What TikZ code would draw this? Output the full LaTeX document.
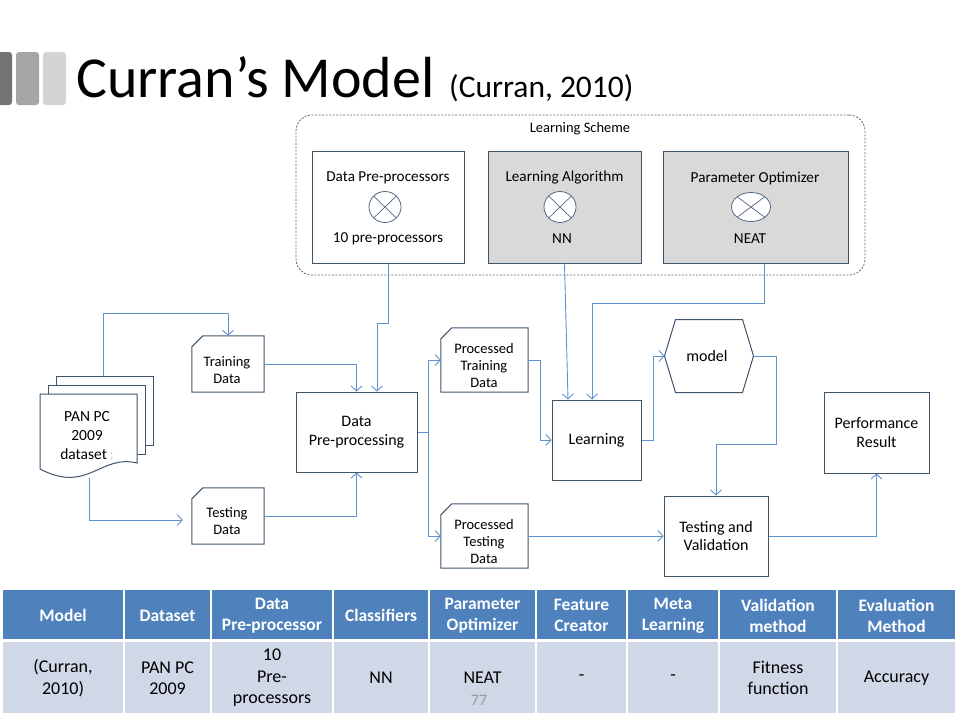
\documentclass[tikz,border=0pt]{standalone}
\usepackage{fontspec}
\setmainfont{Carlito}
\usetikzlibrary{arrows.meta,calc,positioning,shapes.geometric}

\definecolor{linkblue}{RGB}{96,148,208}
\definecolor{boxline}{RGB}{64,84,108}
\definecolor{schemeline}{RGB}{84,104,132}
\definecolor{boxgray}{RGB}{217,217,217}
\definecolor{headblue}{RGB}{79,129,189}
\definecolor{rowblue}{RGB}{208,216,232}

\tikzset{
    flowbox/.style={draw=boxline, line width=1pt, fill=white, inner sep=0pt, align=center,
        font=\fontsize{16}{18.5}\selectfont},
    databox/.style={inner sep=0pt, align=center, font=\fontsize{14.5}{17}\selectfont},
    schemebox/.style={draw=boxline, line width=1pt, fill=white, minimum height=112pt},
    boxtext/.style={font=\fontsize{15.2}{17}\selectfont},
    xcircle/.style={ellipse, draw=schemeline, line width=0.8pt, fill=white, inner sep=0pt,
        path picture={\draw[schemeline, line width=0.7pt]
            (path picture bounding box.north east) -- (path picture bounding box.south west)
            (path picture bounding box.north west) -- (path picture bounding box.south east);}},
    link/.style={draw=linkblue, line width=0.9pt, -{Straight Barb[length=5pt,width=11pt]}},
    headcell/.style={text=white, align=center, font=\bfseries\fontsize{17.5}{21}\selectfont},
    bodycell/.style={align=center, font=\fontsize{18}{21.5}\selectfont},
}

\begin{document}
\begin{tikzpicture}[x=1pt,y=-1pt]
    \useasboundingbox (0,0) rectangle (960,720);

    % title and the three grey bars
    \foreach \xa/\xb/\shade in {-6/12/55, 16/39/35, 43/66/17}{
        \fill[black!\shade, rounded corners=3pt] (\xa,52) rectangle (\xb,105);
    }
    \node[anchor=base west, inner sep=0pt, font=\fontsize{58}{60}\selectfont] (title) at (76,97) {Curran’s Model};
    \node[anchor=base west, inner sep=0pt, font=\fontsize{31.5}{34}\selectfont] (cite) at (449,97) {(Curran, 2010)};

    % learning scheme
    \node[draw=schemeline, line width=0.8pt, dash pattern=on 2pt off 1.5pt, rounded corners=16pt,
        minimum width=569pt, minimum height=160pt] (scheme) at (580.5,195) {};
    \node[boxtext, font=\fontsize{14.5}{16}\selectfont] (schemelabel) at (580,129) {Learning Scheme};

    \node[schemebox, minimum width=152pt] (dpre) at (388,207) {};
    \node[schemebox, fill=boxgray, minimum width=153pt] (lalg) at (564.5,207) {};
    \node[schemebox, fill=boxgray, minimum width=185pt] (popt) at (755.5,207) {};

    \node[boxtext] (dpre-head) at (388,178) {Data Pre-processors};
    \node[boxtext] (lalg-head) at (564.5,178) {Learning Algorithm};
    \node[boxtext] (popt-head) at (755,178) {Parameter Optimizer};
    \node[boxtext] (dpre-tail) at (388,239) {10 pre-processors};
    \node[boxtext] (lalg-tail) at (562,239) {NN};
    \node[boxtext] (popt-tail) at (750,239) {NEAT};

    \node[xcircle, minimum width=32pt, minimum height=31pt] (dpre-x) at (385,207) {};
    \node[xcircle, minimum width=32pt, minimum height=31pt] (lalg-x) at (560,207) {};
    \node[xcircle, minimum width=39pt, minimum height=29pt] (popt-x) at (751,207) {};

    % data set (stack of documents)
    \foreach \dx/\dy in {16/-18, 8/-9}{
        \draw[boxline, line width=1pt, fill=white] (40+\dx,394+\dy) rectangle (137+\dx,463+\dy);
    }
    \draw[boxline, line width=1pt, fill=white] (40,394) -- (137,394) -- (137,463)
        .. controls (100,454) and (88,494) .. (40,469) -- cycle;
    \node[align=center, inner sep=0pt, font=\fontsize{15.5}{19}\selectfont] (pan) at (87,436)
        {PAN PC\\2009\\dataset{\color{black!20}\,:}};
    \coordinate (pantop) at (103,376);
    \coordinate (panbot) at (89,478);

    % flow boxes
    \node[databox, minimum width=72pt, minimum height=56pt] (train) at (228,364) {};
    \node[databox, minimum width=72pt, minimum height=56pt] (test) at (228,516) {};
    \node[databox, minimum width=87pt, minimum height=64pt] (ptrain) at (484.5,360) {};
    \node[databox, minimum width=87pt, minimum height=64pt] (ptest) at (484.5,536) {};
    \foreach \n in {train,test,ptrain,ptest}{
        \draw[boxline, line width=1pt, fill=white] ([yshift=-11pt]\n.north west) -- ([xshift=11pt]\n.north west)
            -- (\n.north east) -- (\n.south east) -- (\n.south west) -- cycle;
    }
    \node[databox] (train-text) at (227,370) {Training\\Data};
    \node[databox] (test-text) at (227,521.5) {Testing\\Data};
    \node[databox] (ptrain-text) at (484,366) {Processed\\Training\\Data};
    \node[databox] (ptest-text) at (484,542) {Processed\\Testing\\Data};

    \node[flowbox, minimum width=121pt, minimum height=80pt] (dproc) at (356.5,432) {Data\\Pre-processing};
    \node[flowbox, minimum width=89pt, minimum height=80pt] (learn) at (596.5,440) {Learning};
    \node[flowbox, minimum width=104pt, minimum height=80pt] (tval) at (716,536) {Testing and\\Validation};
    \node[flowbox, minimum width=105pt, minimum height=81pt] (perf) at (876.5,432.5) {Performance\\Result};

    \node[flowbox, draw=none, fill=none, minimum width=88pt, minimum height=72pt] (model) at (709,356) {};
    \draw[boxline, line width=1pt, fill=white] (model.west) -- ([xshift=11pt]model.north west)
        -- ([xshift=-11pt]model.north east) -- (model.east) -- ([xshift=-11pt]model.south east)
        -- ([xshift=11pt]model.south west) -- cycle;
    \node[flowbox, draw=none, fill=none] (model-text) at (707,356) {model};

    % connectors
    \draw[link] (pantop) -- (103,313) -| (train.north);
    \draw[link, shorten >=9pt] (panbot) |- ([yshift=-4pt]test.west);
    \draw[link] (train.east) -| (dproc.north);
    \draw[link] (test.east) -| (dproc.south);
    \draw[link] (dpre.south) -- ++(0,60) -| ([xshift=20.5pt]dproc.north);
    \draw[link] (dproc.east) -- ++(11,0) |- (ptrain.west);
    \draw[link] (dproc.east) -- ++(11,0) |- (ptest.west);
    \draw[link] (ptrain.east) -- ++(12,0) |- (learn.west);
    \draw[link] (lalg.south) -- ([xshift=-28.5pt]learn.north);
    \draw[link] ([xshift=8.5pt]popt.south) -- ++(0,40) -| ([xshift=-4.5pt]learn.north);
    \draw[link] (learn.east) -- ++(12,0) |- (model.west);
    \draw[link] (model.east) -- ++(23,0) -- ++(0,88) -| (tval.north);
    \draw[link] (ptest.east) -- (tval.west);
    \draw[link] (tval.east) -| (perf.south);

    % summary table
    \foreach \xa/\xb/\hd/\bd [count=\i] in {
        2/124/Model/{(Curran,\\2010)},
        124/211/Dataset/{PAN PC\\2009},
        211/333/{Data\\Pre-processor}/{10\\Pre-\\processors},
        333/429/Classifiers/NN,
        429/536/{Parameter\\Optimizer}/NEAT,
        536/627/{Feature\\Creator}/-,
        627/719/{Meta\\Learning}/-,
        719/837/{Validation\\method}/{Fitness\\function},
        837/956/{Evaluation\\Method}/Accuracy}{
        \fill[headblue] (\xa+1,590) rectangle (\xb-1,639);
        \fill[rowblue] (\xa+1,642) rectangle (\xb-1,713);
        \node[headcell] (head\i) at ({(\xa+\xb)/2},615.5) {\hd};
        \node[bodycell] (body\i) at ({(\xa+\xb)/2},678) {\bd};
    }
    \node[text=black!40, font=\fontsize{16}{18}\selectfont] (pagenum) at (479,700) {77};

\end{tikzpicture}
\end{document}
